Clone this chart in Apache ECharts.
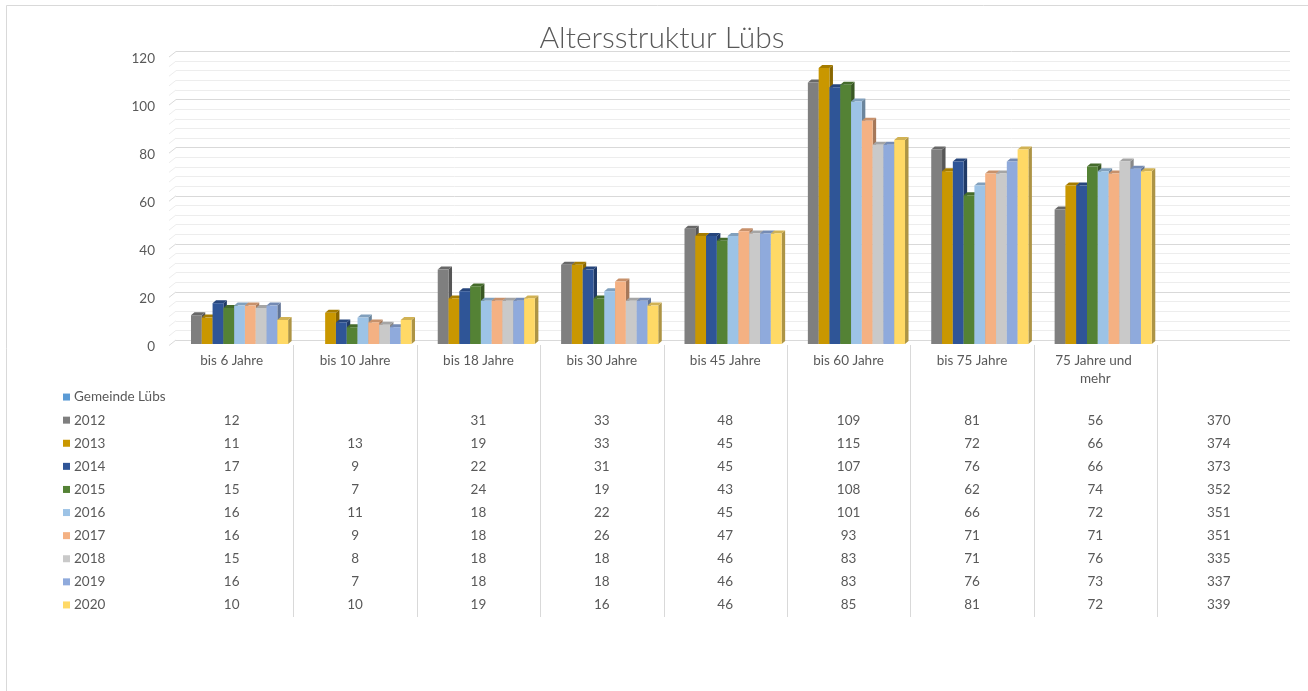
<!DOCTYPE html>
<html>
<head>
<meta charset="utf-8">
<title>Altersstruktur Lübs</title>
<script src="https://cdn.jsdelivr.net/npm/echarts@6/dist/echarts.min.js"></script>
<style>
  html, body { margin: 0; padding: 0; background: #ffffff; }
  #chart { width: 1308px; height: 691px; }
</style>
</head>
<body>
<div id="chart"></div>
<script>
// Age groups (the last column only carries the row totals in the table)
const categories = ['bis 6 Jahre', 'bis 10 Jahre', 'bis 18 Jahre', 'bis 30 Jahre', 'bis 45 Jahre',
                    'bis 60 Jahre', 'bis 75 Jahre', '75 Jahre und mehr', ''];

const years = ['2012', '2013', '2014', '2015', '2016', '2017', '2018', '2019', '2020'];

// Residents per age group and year
const v2012 = [12, null, 31, 33, 48, 109, 81, 56];
const v2013 = [11, 13, 19, 33, 45, 115, 72, 66];
const v2014 = [17, 9, 22, 31, 45, 107, 76, 66];
const v2015 = [15, 7, 24, 19, 43, 108, 62, 74];
const v2016 = [16, 11, 18, 22, 45, 101, 66, 72];
const v2017 = [16, 9, 18, 26, 47, 93, 71, 71];
const v2018 = [15, 8, 18, 18, 46, 83, 71, 76];
const v2019 = [16, 7, 18, 18, 46, 83, 76, 73];
const v2020 = [10, 10, 19, 16, 46, 85, 81, 72];

// Totals per year (last table column)
const totals = [370, 374, 373, 352, 351, 351, 335, 337, 339];

const yTicks = [0, 20, 40, 60, 80, 100, 120];

const seriesValues = [v2012, v2013, v2014, v2015, v2016, v2017, v2018, v2019, v2020];
const colors = ['#7f7f7f', '#c99700', '#2f5597', '#548235', '#9dc3e6',
                '#f4b183', '#c9c9c9', '#8faadc', '#ffd966'];
const headerRow = 'Gemeinde Lübs';
const headerColor = '#5b9bd5';

const FONT = "Lato, 'Noto Sans', 'Open Sans', sans-serif";
const TEXT = '#595959';

function shade(hex, f) {
  const n = parseInt(hex.slice(1), 16);
  const r = Math.round(((n >> 16) & 255) * f);
  const g = Math.round(((n >> 8) & 255) * f);
  const b = Math.round((n & 255) * f);
  return 'rgb(' + r + ',' + g + ',' + b + ')';
}

const DX = 3.5, DY = 3;       // depth of the 3D columns
const WALL_DX = 7, WALL_DY = 5.5; // depth of the side wall

// 3D column: front face, right side and top
function barRenderer(sIdx) {
  return function (params, api) {
    const cat = api.value(0);
    const val = api.value(1);
    if (val == null || isNaN(val)) return null;
    const band = api.size([1, 0])[0];
    const center = api.coord([cat, 0])[0];
    const w = band * 0.0875;
    const left = center - band / 2 + band * 0.17 + sIdx * w;
    const y0 = api.coord([cat, 0])[1];
    const y1 = api.coord([cat, val])[1];
    const c = colors[sIdx];
    return {
      type: 'group',
      children: [
        { type: 'polygon', shape: { points: [[left + w, y1], [left + w + DX, y1 - DY], [left + w + DX, y0 - DY], [left + w, y0]] },
          style: { fill: shade(c, 0.68) } },
        { type: 'polygon', shape: { points: [[left, y1], [left + DX, y1 - DY], [left + w + DX, y1 - DY], [left + w, y1]] },
          style: { fill: shade(c, 0.82) } },
        { type: 'rect', shape: { x: left, y: y1, width: w, height: y0 - y1 },
          style: { fill: c } }
      ]
    };
  };
}

const barSeries = seriesValues.map((vals, sIdx) => ({
  type: 'custom',
  name: years[sIdx],
  xAxisIndex: 1,
  yAxisIndex: 1,
  z: 5,
  renderItem: barRenderer(sIdx),
  data: vals.map((v, i) => [i, v == null ? '-' : v]),
  silent: true
}));

// Side wall edges of the gridlines (left end of every line)
const wallLines = [];
for (let t = 0; t <= 120; t += 4) wallLines.push([0, t]);

const wallSeries = {
  type: 'custom',
  xAxisIndex: 0,
  yAxisIndex: 0,
  z: 2,
  silent: true,
  renderItem: function (params, api) {
    const v = api.value(1);
    const p = api.coord([0, v]);
    const left = p[0] - api.size([1, 0])[0] / 2;
    const major = v % 20 === 0;
    return {
      type: 'line',
      shape: { x1: left - WALL_DX, y1: p[1] + WALL_DY, x2: left, y2: p[1] },
      style: { stroke: major ? '#d9d9d9' : '#ededed', lineWidth: 1 }
    };
  },
  data: wallLines
};

// Vertical separators of the data table
const sepData = [];
for (let k = 1; k < categories.length; k++) sepData.push([k, 0]);
const sepSeries = {
  type: 'custom',
  xAxisIndex: 2,
  yAxisIndex: 2,
  silent: true,
  renderItem: function (params, api) {
    const k = api.value(0);
    const band = api.size([1, 0])[0];
    const x = Math.round(api.coord([k, 0])[0] - band / 2) + 0.5;
    const yTop = api.coord([k, 1])[1];
    const yBot = api.coord([k, 0])[1];
    return { type: 'line', shape: { x1: x, y1: yTop, x2: x, y2: yBot },
             style: { stroke: '#d9d9d9', lineWidth: 1 } };
  },
  data: sepData
};

// Table cells: row 0 is the (empty) header row
const rowNames = [headerRow].concat(years);
const cells = [];
seriesValues.forEach((vals, sIdx) => {
  vals.forEach((v, i) => { if (v != null) cells.push([i, sIdx + 1, String(v)]); });
  cells.push([categories.length - 1, sIdx + 1, String(totals[sIdx])]);
});
const cellSeries = {
  type: 'custom',
  xAxisIndex: 3,
  yAxisIndex: 3,
  silent: true,
  renderItem: function (params, api) {
    const p = api.coord([api.value(0), api.value(1)]);
    return {
      type: 'text',
      style: {
        x: p[0], y: p[1], text: cells[params.dataIndex][2],
        align: 'center', verticalAlign: 'middle',
        fill: TEXT, font: '13.5px ' + FONT
      }
    };
  },
  data: cells
};

const rich = { t: { color: TEXT, fontSize: 13.5, fontFamily: FONT, padding: [0, 0, 0, 4] } };
rowNames.forEach((n, i) => {
  rich['s' + i] = { width: 7, height: 7, backgroundColor: i === 0 ? headerColor : colors[i - 1] };
});

const chart = echarts.init(document.getElementById('chart'), null, { renderer: 'canvas' });
chart.setOption({
  animation: false,
  backgroundColor: '#ffffff',
  textStyle: { fontFamily: FONT },
  title: {
    text: 'Altersstruktur Lübs',
    left: 657,
    textAlign: 'center',
    top: 18,
    textStyle: { fontFamily: FONT, fontWeight: 300, fontSize: 30, color: TEXT }
  },
  graphic: [{
    type: 'rect', silent: true, z: 0,
    shape: { x: 6.5, y: 5.5, width: 1400, height: 800 },
    style: { fill: 'none', stroke: '#d9d9d9', lineWidth: 1 }
  }],
  grid: [
    { left: 176, right: 18, top: 51.5, bottom: 351 },     // back wall
    { left: 170, right: 27.6, top: 56, bottom: 347 },     // front plane (columns)
    { left: 170, right: 27.6, top: 345, bottom: 74 },     // table frame
    { left: 170, right: 27.6, top: 385.5, bottom: 74.5 }, // table rows
    { left: 170, right: 27.6, top: 59, bottom: 344 }      // value labels at the front-left edge
  ],
  xAxis: [
    { gridIndex: 0, type: 'category', data: categories, show: false },
    { gridIndex: 1, type: 'category', data: categories,
      axisLine: { show: false }, axisTick: { show: false },
      axisLabel: { interval: 0, margin: 8, color: TEXT, fontSize: 13.5, fontFamily: FONT,
                   width: 92, overflow: 'break', lineHeight: 18, verticalAlign: 'top' } },
    { gridIndex: 2, type: 'category', data: categories, show: false },
    { gridIndex: 3, type: 'category', data: categories, show: false },
    { gridIndex: 4, type: 'category', data: categories, show: false }
  ],
  yAxis: [
    { gridIndex: 0, type: 'value', min: 0, max: 120, interval: 20,
      axisLabel: { show: false }, axisLine: { show: false }, axisTick: { show: false },
      splitLine: { show: true, lineStyle: { color: '#d9d9d9', width: 1 } },
      minorTick: { show: false, splitNumber: 5 },
      minorSplitLine: { show: true, lineStyle: { color: '#ededed', width: 1 } } },
    { gridIndex: 1, type: 'value', min: 0, max: 120, interval: 20, show: false },
    { gridIndex: 2, type: 'value', min: 0, max: 1, show: false },
    { gridIndex: 3, type: 'category', data: rowNames, inverse: true,
      axisLine: { show: false }, axisTick: { show: false }, splitLine: { show: false },
      axisLabel: { align: 'left', margin: 107, interval: 0,
                   formatter: (v, i) => '{s' + i + '|}{t|' + v + '}', rich: rich } },
    { gridIndex: 4, type: 'value', min: 0, max: 120, interval: 20,
      axisLine: { show: false }, axisTick: { show: false }, splitLine: { show: false },
      axisLabel: { margin: 15, color: TEXT, fontSize: 13.5, fontFamily: FONT,
                   formatter: v => yTicks.indexOf(v) >= 0 ? String(v) : '' } }
  ],
  series: [wallSeries, sepSeries, cellSeries].concat(barSeries)
});
</script>
</body>
</html>
